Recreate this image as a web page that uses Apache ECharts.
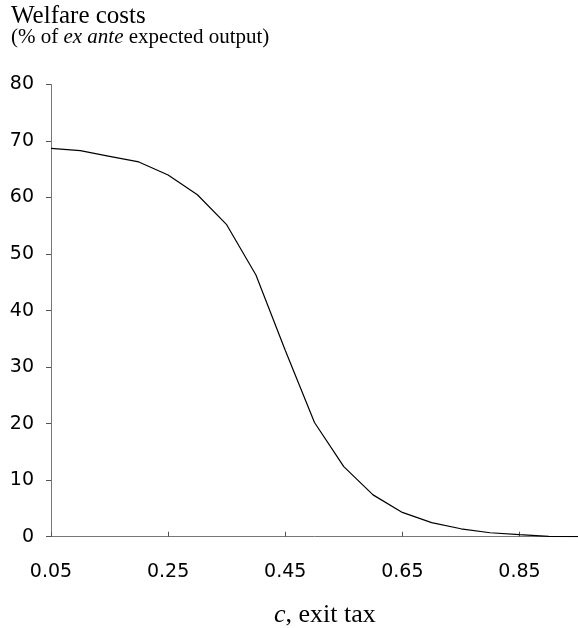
<!DOCTYPE html>
<html>
<head>
<meta charset="utf-8">
<script src="https://cdn.jsdelivr.net/npm/echarts@6/dist/echarts.min.js"></script>
<style>
  html, body { margin: 0; padding: 0; background: #fff; }
  #chart-container { width: 578px; height: 628px; }
</style>
</head>
<body>
<div id="chart-container"></div>
<script>
// exit tax c and welfare costs (% of ex ante expected output)
var exitTax = [0.05, 0.10, 0.15, 0.20, 0.25, 0.30, 0.35, 0.40, 0.45, 0.50,
               0.55, 0.60, 0.65, 0.70, 0.75, 0.80, 0.85, 0.90, 0.95];
var welfareCosts = [68.7, 68.3, 67.3, 66.3, 64.0, 60.5, 55.2, 46.3, 33.0, 20.2,
                    12.4, 7.4, 4.3, 2.5, 1.4, 0.7, 0.35, 0.05, 0.0];

var dom = document.getElementById("chart-container");
var myChart = echarts.init(dom, null, { renderer: "canvas" });

var pts = exitTax.map(function (c, i) { return [c, welfareCosts[i]]; });

var serif = "Liberation Serif";
var sans = "DejaVu Sans";

var option = {
    animation: false,
    title: [{
        text: "Welfare costs",
        left: 6, top: -1,
        textStyle: { fontFamily: serif, fontSize: 25, fontWeight: "normal", color: "#000" }
    }, {
        text: "(% of {i|ex ante} expected output)",
        left: 6, top: 22,
        textStyle: {
            fontFamily: serif, fontSize: 21, fontWeight: "normal", color: "#000",
            rich: { i: { fontFamily: serif, fontSize: 21, fontStyle: "italic", color: "#000" } }
        }
    }, {
        text: "{i|c}, exit tax",
        left: 269, top: 597,
        textStyle: {
            fontFamily: serif, fontSize: 26, fontWeight: "normal", color: "#000",
            rich: { i: { fontFamily: serif, fontSize: 26, fontStyle: "italic", color: "#000" } }
        }
    }],
    grid: { left: 51, right: -7, top: 84.5, bottom: 91.3 },
    xAxis: {
        type: "value",
        min: 0.05,
        max: 0.95,
        interval: 0.2,
        splitLine: { show: false },
        axisLine: { lineStyle: { color: "#777", width: 1 } },
        axisTick: { inside: true, length: 5, lineStyle: { color: "#555" } },
        axisLabel: {
            showMaxLabel: false,
            margin: 26,
            fontFamily: sans, fontSize: 19, color: "#000",
            formatter: function (v) { return v.toFixed(2); }
        }
    },
    yAxis: {
        type: "value",
        min: 0,
        max: 80,
        interval: 10,
        splitLine: { show: false },
        axisLine: { show: true, lineStyle: { color: "#777", width: 1 } },
        axisTick: { show: true, length: 5, lineStyle: { color: "#555" } },
        axisLabel: { margin: 17, fontFamily: sans, fontSize: 19, color: "#000" }
    },
    series: [{
        type: "line",
        data: pts,
        showSymbol: false,
        lineStyle: { color: "#000", width: 1.2 }
    }]
};

myChart.setOption(option);
window.addEventListener("resize", myChart.resize);
</script>
</body>
</html>
